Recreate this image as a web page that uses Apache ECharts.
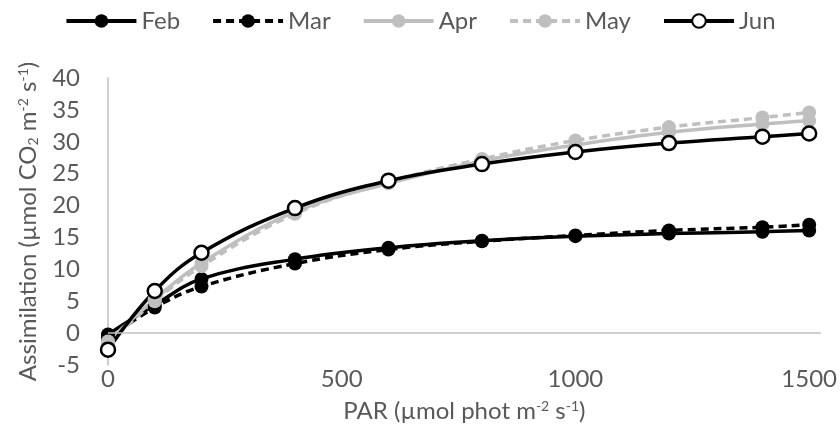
<!DOCTYPE html>
<html>
<head>
<meta charset="utf-8">
<script src="https://cdn.jsdelivr.net/npm/echarts@6/dist/echarts.min.js"></script>
<style>html,body{margin:0;padding:0;background:#fff}#c{width:840px;height:428px}</style>
</head>
<body>
<div id="c"></div>
<script>
const par = [0, 100, 200, 400, 600, 800, 1000, 1200, 1400, 1500];
const feb = [-0.2, 4.4, 8.5, 11.6, 13.4, 14.5, 15.2, 15.6, 15.9, 16.1];
const mar = [-0.8, 4.0, 7.3, 10.9, 13.1, 14.4, 15.3, 16.1, 16.6, 17.0];
const apr = [-1.3, 5.3, 11.0, 19.0, 23.5, 27.0, 29.5, 31.5, 32.8, 33.3];
const may = [-1.6, 5.0, 10.5, 18.7, 23.7, 27.3, 30.2, 32.3, 33.8, 34.6];
const jun = [-2.6, 6.6, 12.6, 19.6, 23.9, 26.5, 28.4, 29.8, 30.8, 31.3];
const xTicks = [0, 500, 1000, 1500];
const yTicks = [-5, 0, 5, 10, 15, 20, 25, 30, 35, 40];

const FONT = 'Lato';
const FS = 24;
const TXT = '#595959';
const BLACK = '#000000';
const GRAY = '#bfbfbf';

function pts(ys) { return par.map((x, i) => [x, ys[i]]); }

function mk(name, ys, color, dashed, hollow) {
  return {
    name: name, type: 'line', data: pts(ys), smooth: 0.4,
    symbol: 'circle', symbolSize: 14,
    lineStyle: { color: color, width: 3.5, type: dashed ? [8, 5] : 'solid' },
    itemStyle: hollow ? { color: '#ffffff', borderColor: color, borderWidth: 2.5 } : { color: color, borderColor: color, borderWidth: 0 },
    emphasis: { disabled: true }, animation: false
  };
}

const series = [
  mk('Feb', feb, BLACK, false, false),
  mk('Mar', mar, BLACK, true, false),
  mk('Apr', apr, GRAY, false, false),
  mk('May', may, GRAY, true, false),
  mk('Jun', jun, BLACK, false, true)
];
series[0].markLine = {
  silent: true, symbol: 'none', label: { show: false },
  lineStyle: { color: '#bfbfbf', width: 1.5, type: 'solid' },
  data: [{ yAxis: 0 }], animation: false
};

const chart = echarts.init(document.getElementById('c'), null, { renderer: 'canvas' });
chart.setOption({
  animation: false,
  textStyle: { fontFamily: FONT },
  legend: {
    top: 4, left: 'center', itemWidth: 70, itemHeight: 17, itemGap: 31,
    lineStyle: { width: 4 },
    textStyle: { fontFamily: FONT, fontSize: FS, color: TXT },
    data: ['Feb', 'Mar', 'Apr', 'May', 'Jun']
  },
  grid: { left: 108, right: 18, top: 78, bottom: 56, containLabel: false },
  xAxis: {
    type: 'value', min: 0, max: 1525, interval: 500,
    name: 'PAR (µmol phot m{sup|-2} s{sup|-1})', nameLocation: 'middle', nameGap: 34,
    nameTextStyle: {
      fontFamily: FONT, fontSize: FS, color: TXT,
      rich: { sup: { fontFamily: FONT, fontSize: 14, color: TXT, verticalAlign: 'top', padding: [0, 0, 10, 0] } }
    },
    axisLine: { show: false }, axisTick: { show: false }, splitLine: { show: false },
    axisLabel: {
      fontFamily: FONT, fontSize: FS, color: TXT, margin: 2,
      formatter: v => xTicks.includes(v) ? String(v) : ''
    }
  },
  yAxis: {
    type: 'value', min: -5, max: 40, interval: 5,
    name: 'Assimilation (µmol CO{sub|2} m{sup|-2} s{sup|-1})', nameLocation: 'middle', nameGap: 68,
    nameTextStyle: {
      fontFamily: FONT, fontSize: FS, color: TXT,
      rich: {
        sup: { fontFamily: FONT, fontSize: 14, color: TXT, verticalAlign: 'top', padding: [0, 0, 10, 0] },
        sub: { fontFamily: FONT, fontSize: 14, color: TXT, verticalAlign: 'bottom', padding: [8, 0, 0, 0] }
      }
    },
    axisLine: { show: true, lineStyle: { color: '#bfbfbf', width: 1.5 } },
    axisTick: { show: false }, splitLine: { show: false },
    axisLabel: {
      fontFamily: FONT, fontSize: FS, color: TXT, margin: 28,
      formatter: v => yTicks.includes(v) ? String(v) : ''
    }
  },
  series: series
});
</script>
</body>
</html>
